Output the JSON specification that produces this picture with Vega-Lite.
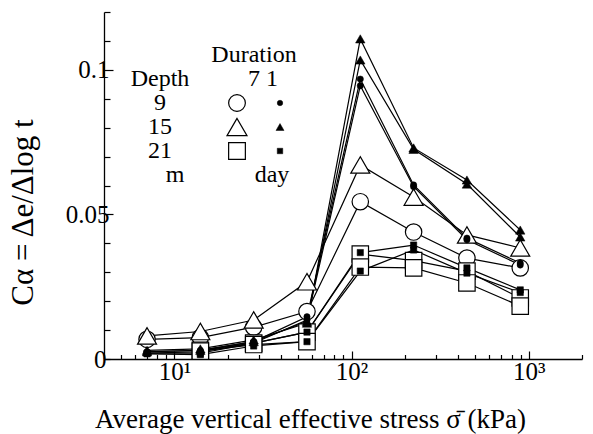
{
  "$schema": "https://vega.github.io/schema/vega-lite/v6.json",
  "width": 478,
  "height": 347,
  "autosize": {"type": "none"},
  "padding": {"left": 104, "top": 12, "right": 11, "bottom": 75},
  "background": "white",
  "config": {
    "view": {"stroke": null},
    "font": "Liberation Serif",
    "text": {"font": "Liberation Serif"},
    "axis": {"labelFont": "Liberation Serif", "titleFont": "Liberation Serif", "labelColor": "black", "titleColor": "black", "domainColor": "black", "tickColor": "black", "grid": false, "titleFontWeight": "normal"}
  },
  "datasets": {
    "cs": [
      {"s": "O9", "depth": "9", "dur": "7", "p": 7, "c": 0.0068},
      {"s": "O9", "depth": "9", "dur": "7", "p": 14, "c": 0.0074},
      {"s": "O9", "depth": "9", "dur": "7", "p": 28, "c": 0.011},
      {"s": "O9", "depth": "9", "dur": "7", "p": 56, "c": 0.0164},
      {"s": "O9", "depth": "9", "dur": "7", "p": 112, "c": 0.0544},
      {"s": "O9", "depth": "9", "dur": "7", "p": 224, "c": 0.0439},
      {"s": "O9", "depth": "9", "dur": "7", "p": 448, "c": 0.0349},
      {"s": "O9", "depth": "9", "dur": "7", "p": 896, "c": 0.0315},
      {"s": "O15", "depth": "15", "dur": "7", "p": 7, "c": 0.008},
      {"s": "O15", "depth": "15", "dur": "7", "p": 14, "c": 0.0095},
      {"s": "O15", "depth": "15", "dur": "7", "p": 28, "c": 0.0135},
      {"s": "O15", "depth": "15", "dur": "7", "p": 56, "c": 0.0267},
      {"s": "O15", "depth": "15", "dur": "7", "p": 112, "c": 0.0671},
      {"s": "O15", "depth": "15", "dur": "7", "p": 224, "c": 0.056},
      {"s": "O15", "depth": "15", "dur": "7", "p": 448, "c": 0.0429},
      {"s": "O15", "depth": "15", "dur": "7", "p": 896, "c": 0.0384},
      {"s": "O21a", "depth": "21", "dur": "7", "p": 14, "c": 0.003},
      {"s": "O21a", "depth": "21", "dur": "7", "p": 28, "c": 0.0055},
      {"s": "O21a", "depth": "21", "dur": "7", "p": 56, "c": 0.0093},
      {"s": "O21a", "depth": "21", "dur": "7", "p": 112, "c": 0.0363},
      {"s": "O21a", "depth": "21", "dur": "7", "p": 224, "c": 0.034},
      {"s": "O21a", "depth": "21", "dur": "7", "p": 448, "c": 0.0304},
      {"s": "O21a", "depth": "21", "dur": "7", "p": 896, "c": 0.0211},
      {"s": "O21b", "depth": "21", "dur": "7", "p": 14, "c": 0.0027},
      {"s": "O21b", "depth": "21", "dur": "7", "p": 28, "c": 0.005},
      {"s": "O21b", "depth": "21", "dur": "7", "p": 56, "c": 0.006},
      {"s": "O21b", "depth": "21", "dur": "7", "p": 112, "c": 0.0318},
      {"s": "O21b", "depth": "21", "dur": "7", "p": 224, "c": 0.0315},
      {"s": "O21b", "depth": "21", "dur": "7", "p": 448, "c": 0.0263},
      {"s": "O21b", "depth": "21", "dur": "7", "p": 896, "c": 0.0183},
      {"s": "F9a", "depth": "9", "dur": "1", "p": 7, "c": 0.0025},
      {"s": "F9a", "depth": "9", "dur": "1", "p": 14, "c": 0.003},
      {"s": "F9a", "depth": "9", "dur": "1", "p": 28, "c": 0.006},
      {"s": "F9a", "depth": "9", "dur": "1", "p": 56, "c": 0.0146},
      {"s": "F9a", "depth": "9", "dur": "1", "p": 112, "c": 0.0968},
      {"s": "F9a", "depth": "9", "dur": "1", "p": 224, "c": 0.0602},
      {"s": "F9a", "depth": "9", "dur": "1", "p": 448, "c": 0.0418},
      {"s": "F9a", "depth": "9", "dur": "1", "p": 896, "c": 0.0332},
      {"s": "F9b", "depth": "9", "dur": "1", "p": 7, "c": 0.002},
      {"s": "F9b", "depth": "9", "dur": "1", "p": 14, "c": 0.0025},
      {"s": "F9b", "depth": "9", "dur": "1", "p": 28, "c": 0.0055},
      {"s": "F9b", "depth": "9", "dur": "1", "p": 56, "c": 0.0135},
      {"s": "F9b", "depth": "9", "dur": "1", "p": 112, "c": 0.0945},
      {"s": "F9b", "depth": "9", "dur": "1", "p": 224, "c": 0.0596},
      {"s": "F9b", "depth": "9", "dur": "1", "p": 448, "c": 0.0412},
      {"s": "F9b", "depth": "9", "dur": "1", "p": 896, "c": 0.0325},
      {"s": "F15a", "depth": "15", "dur": "1", "p": 7, "c": 0.003},
      {"s": "F15a", "depth": "15", "dur": "1", "p": 14, "c": 0.0035},
      {"s": "F15a", "depth": "15", "dur": "1", "p": 28, "c": 0.0066},
      {"s": "F15a", "depth": "15", "dur": "1", "p": 56, "c": 0.0124},
      {"s": "F15a", "depth": "15", "dur": "1", "p": 112, "c": 0.1107},
      {"s": "F15a", "depth": "15", "dur": "1", "p": 224, "c": 0.073},
      {"s": "F15a", "depth": "15", "dur": "1", "p": 448, "c": 0.0619},
      {"s": "F15a", "depth": "15", "dur": "1", "p": 896, "c": 0.0446},
      {"s": "F15b", "depth": "15", "dur": "1", "p": 7, "c": 0.0025},
      {"s": "F15b", "depth": "15", "dur": "1", "p": 14, "c": 0.003},
      {"s": "F15b", "depth": "15", "dur": "1", "p": 28, "c": 0.006},
      {"s": "F15b", "depth": "15", "dur": "1", "p": 56, "c": 0.013},
      {"s": "F15b", "depth": "15", "dur": "1", "p": 112, "c": 0.1034},
      {"s": "F15b", "depth": "15", "dur": "1", "p": 224, "c": 0.0725},
      {"s": "F15b", "depth": "15", "dur": "1", "p": 448, "c": 0.0605},
      {"s": "F15b", "depth": "15", "dur": "1", "p": 896, "c": 0.0422},
      {"s": "F21a", "depth": "21", "dur": "1", "p": 7, "c": 0.002},
      {"s": "F21a", "depth": "21", "dur": "1", "p": 14, "c": 0.002},
      {"s": "F21a", "depth": "21", "dur": "1", "p": 28, "c": 0.0055},
      {"s": "F21a", "depth": "21", "dur": "1", "p": 56, "c": 0.0093},
      {"s": "F21a", "depth": "21", "dur": "1", "p": 112, "c": 0.0368},
      {"s": "F21a", "depth": "21", "dur": "1", "p": 224, "c": 0.0394},
      {"s": "F21a", "depth": "21", "dur": "1", "p": 448, "c": 0.0315},
      {"s": "F21a", "depth": "21", "dur": "1", "p": 896, "c": 0.0239},
      {"s": "F21b", "depth": "21", "dur": "1", "p": 7, "c": 0.0018},
      {"s": "F21b", "depth": "21", "dur": "1", "p": 14, "c": 0.0015},
      {"s": "F21b", "depth": "21", "dur": "1", "p": 28, "c": 0.0045},
      {"s": "F21b", "depth": "21", "dur": "1", "p": 56, "c": 0.006},
      {"s": "F21b", "depth": "21", "dur": "1", "p": 112, "c": 0.0304},
      {"s": "F21b", "depth": "21", "dur": "1", "p": 224, "c": 0.0377},
      {"s": "F21b", "depth": "21", "dur": "1", "p": 448, "c": 0.0297},
      {"s": "F21b", "depth": "21", "dur": "1", "p": 896, "c": 0.023}
    ],
    "legendSymbols": [
      {"row": "9", "col": "open", "depth": "9", "dur": "7"},
      {"row": "15", "col": "open", "depth": "15", "dur": "7"},
      {"row": "21", "col": "open", "depth": "21", "dur": "7"},
      {"row": "9", "col": "filled", "depth": "9", "dur": "1"},
      {"row": "15", "col": "filled", "depth": "15", "dur": "1"},
      {"row": "21", "col": "filled", "depth": "21", "dur": "1"}
    ]
  },
  "layer": [
    {
      "data": {"name": "cs"},
      "encoding": {
        "x": {
          "field": "p", "type": "quantitative",
          "scale": {"type": "log", "domain": [4, 2000], "nice": false},
          "axis": {
            "values": [4,5,6,7,8,9,10,20,30,40,50,60,70,80,90,100,200,300,400,500,600,700,800,900,1000,2000],
            "labelExpr": "datum.value == 10 ? '10¹' : datum.value == 100 ? '10²' : datum.value == 1000 ? '10³' : ''",
            "tickSize": {"condition": {"test": "datum.value == 10 || datum.value == 100 || datum.value == 1000", "value": -8}, "value": -4.5},
            "labelPadding": 8,
            "labelFont": "Liberation Serif",
            "labelFontSize": 25,
            "labelOverlap": false,
            "labelFlush": false,
            "domainWidth": 1.3,
            "tickWidth": 1.2,
            "title": "Average vertical effective stress  σ̄  (kPa)",
            "titleFont": "Liberation Serif",
            "titleFontSize": 27,
            "titleX": 206,
            "titleY": 68,
            "titleBaseline": "alphabetic",
            "titleAnchor": null
          }
        },
        "y": {
          "field": "c", "type": "quantitative",
          "scale": {"domain": [0, 0.12], "nice": false},
          "axis": {
            "values": [0,0.01,0.02,0.03,0.04,0.05,0.06,0.07,0.08,0.09,0.1,0.11,0.12],
            "labelExpr": "datum.value == 0 ? '0' : datum.value == 0.05 ? '0.05' : datum.value == 0.1 ? '0.1' : ''",
            "tickSize": {"condition": {"test": "datum.value == 0.05 || datum.value == 0.1", "value": -9}, "value": -6},
            "labelPadding": 4,
            "labelFont": "Liberation Serif",
            "labelFontSize": 25,
            "labelOverlap": false,
            "labelFlush": false,
            "domainWidth": 1.3,
            "tickWidth": 1.2,
            "title": "Cα = Δe/Δlog t",
            "titleFont": "Liberation Serif",
            "titleFontSize": 31,
            "titleAngle": -90,
            "titleX": -72,
            "titleY": 200,
            "titleBaseline": "alphabetic",
            "titleAlign": "center"
          }
        }
      },
      "layer": [
        {"mark": {"type": "line", "color": "black", "strokeWidth": 1.2}, "encoding": {"detail": {"field": "s"}}},
        {"transform": [{"filter": "datum.dur == '7' && datum.depth != '15'"}], "mark": {"type": "point", "filled": true, "fill": "white", "stroke": "black", "strokeWidth": 1.2, "size": 270, "opacity": 1}, "encoding": {"shape": {"field": "depth", "type": "nominal", "scale": {"domain": ["9","15","21"], "range": ["circle","triangle-up","square"]}, "legend": null}}},
        {"transform": [{"filter": "datum.dur == '7' && datum.depth == '15'"}], "mark": {"type": "point", "filled": true, "fill": "white", "stroke": "black", "strokeWidth": 1.2, "size": 361, "opacity": 1}, "encoding": {"shape": {"field": "depth", "type": "nominal", "legend": null}}},
        {"transform": [{"filter": "datum.dur == '1' && datum.depth != '15'"}], "mark": {"type": "point", "filled": true, "fill": "black", "stroke": "black", "strokeWidth": 0.5, "size": 40, "opacity": 1}, "encoding": {"shape": {"field": "depth", "type": "nominal", "legend": null}}},
        {"transform": [{"filter": "datum.dur == '1' && datum.depth == '15'"}], "mark": {"type": "point", "filled": true, "fill": "black", "stroke": "black", "strokeWidth": 0.5, "size": 90, "opacity": 1}, "encoding": {"shape": {"field": "depth", "type": "nominal", "legend": null}}}
      ]
    },
    {
      "encoding": {
        "x": {"field": "col", "type": "nominal", "scale": {"type": "point", "domain": ["depth","open","filled"], "range": [90, 176], "padding": 0}, "axis": null},
        "y": {"field": "row", "type": "nominal", "scale": {"type": "point", "domain": ["title","head","9","15","21","unit"], "range": [43, 163], "padding": 0}, "axis": null}
      },
      "layer": [
        {"data": {"name": "legendSymbols"}, "transform": [{"filter": "datum.dur == '7' && datum.depth != '15'"}], "mark": {"type": "point", "filled": true, "fill": "white", "stroke": "black", "strokeWidth": 1.2, "size": 280, "opacity": 1}, "encoding": {"shape": {"field": "depth", "type": "nominal", "legend": null}}},
        {"data": {"name": "legendSymbols"}, "transform": [{"filter": "datum.dur == '7' && datum.depth == '15'"}], "mark": {"type": "point", "filled": true, "fill": "white", "stroke": "black", "strokeWidth": 1.2, "size": 400, "opacity": 1}, "encoding": {"shape": {"field": "depth", "type": "nominal", "legend": null}}},
        {"data": {"name": "legendSymbols"}, "transform": [{"filter": "datum.dur == '1' && datum.depth != '15'"}], "mark": {"type": "point", "filled": true, "fill": "black", "stroke": "black", "strokeWidth": 0.5, "size": 30, "opacity": 1}, "encoding": {"shape": {"field": "depth", "type": "nominal", "legend": null}}},
        {"data": {"name": "legendSymbols"}, "transform": [{"filter": "datum.dur == '1' && datum.depth == '15'"}], "mark": {"type": "point", "filled": true, "fill": "black", "stroke": "black", "strokeWidth": 0.5, "size": 64, "opacity": 1}, "encoding": {"shape": {"field": "depth", "type": "nominal", "legend": null}}},
        {"data": {"values": [
          {"label": "Depth", "row": "head", "col": "depth"},
          {"label": "9", "row": "9", "col": "depth"},
          {"label": "15", "row": "15", "col": "depth"},
          {"label": "21", "row": "21", "col": "depth"}
        ]}, "mark": {"type": "text", "font": "Liberation Serif", "fontSize": 24, "baseline": "middle", "align": "center", "dx": -34, "color": "black"}, "encoding": {"text": {"field": "label"}}},
        {"data": {"values": [{"label": "m", "row": "unit", "col": "depth"}]}, "mark": {"type": "text", "font": "Liberation Serif", "fontSize": 24, "baseline": "middle", "align": "center", "dx": -19, "color": "black"}, "encoding": {"text": {"field": "label"}}},
        {"data": {"values": [
          {"label": "Duration", "row": "title", "col": "open"},
          {"label": "7", "row": "head", "col": "open"}
        ]}, "mark": {"type": "text", "font": "Liberation Serif", "fontSize": 24, "baseline": "middle", "align": "center", "dx": 17, "color": "black"}, "encoding": {"text": {"field": "label"}}},
        {"data": {"values": [
          {"label": "1", "row": "head", "col": "filled"},
          {"label": "day", "row": "unit", "col": "filled"}
        ]}, "mark": {"type": "text", "font": "Liberation Serif", "fontSize": 24, "baseline": "middle", "align": "center", "dx": -8, "color": "black"}, "encoding": {"text": {"field": "label"}}}
      ]
    }
  ],
  "resolve": {"scale": {"x": "independent", "y": "independent"}}
}
